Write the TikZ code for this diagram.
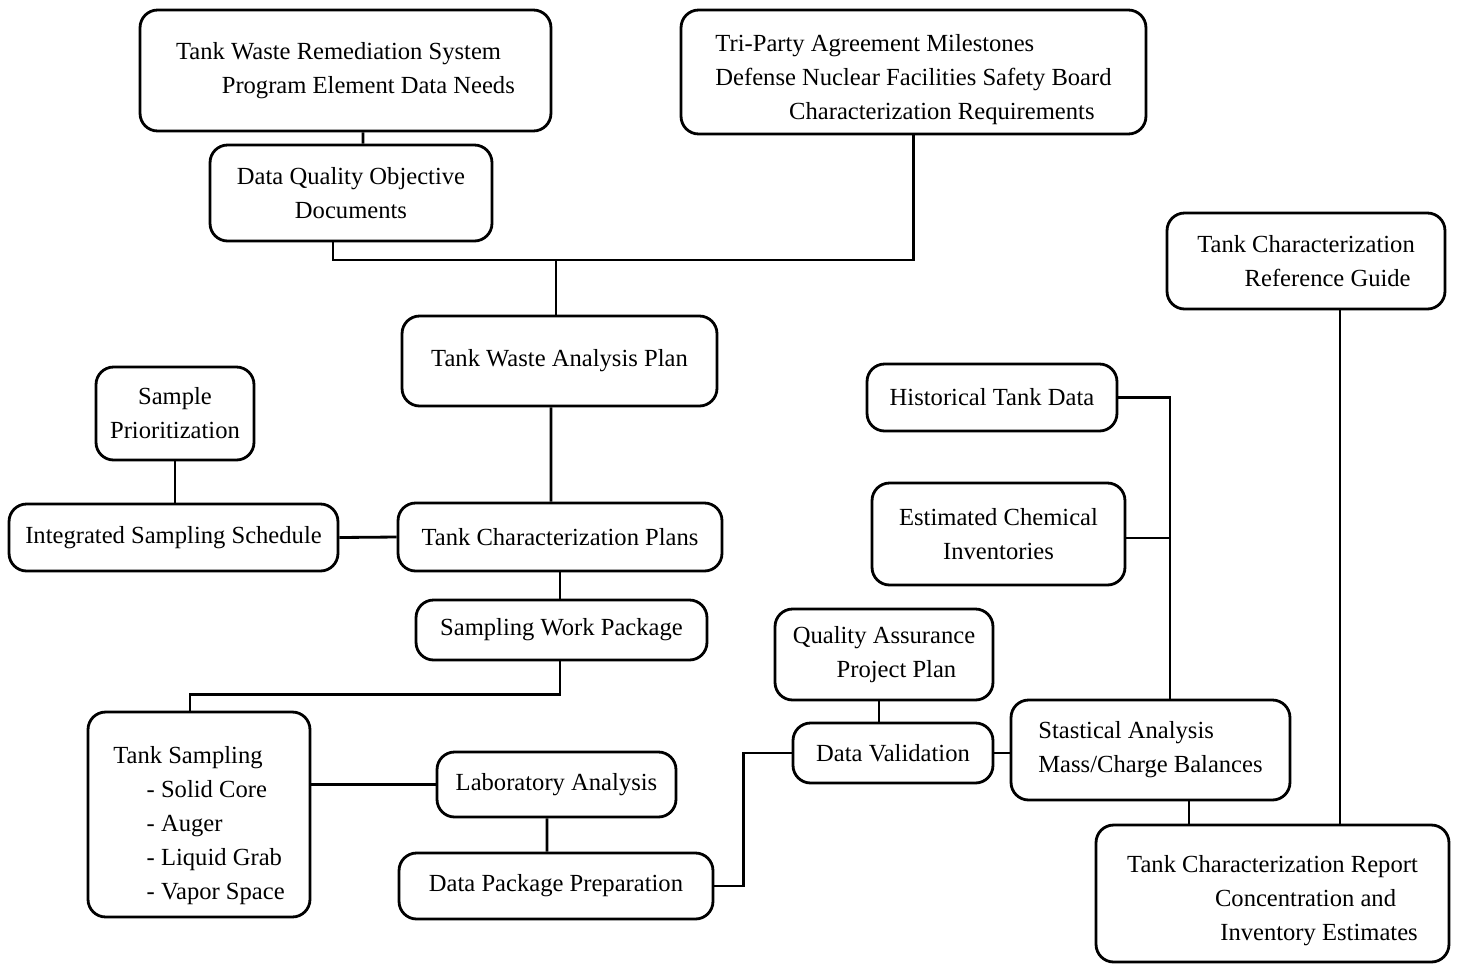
\documentclass[tikz,border=0pt]{standalone}
\usepackage{fontspec}
\setmainfont{Liberation Serif}
\usepackage{tikz}
\usetikzlibrary{positioning,calc}
\tikzset{
  box/.style={rectangle,rounded corners=10pt,draw=black,line width=1.6pt,
              align=center,font=\fontsize{14}{19.4}\selectfont,inner sep=2pt},
  lbox/.style={box,align=left},
  link/.style={line width=1.6pt,draw=black}
}

\begin{document}
\begin{tikzpicture}[x=0.02cm,y=-0.02cm]
  \useasboundingbox (0,0) rectangle (1458,965);

  % top row: requirements
  \node[lbox,minimum width=8.22cm,minimum height=2.42cm] (twrs) at (345.5,70.5)
      {Tank Waste Remediation System\\ \hspace*{26pt}Program Element Data Needs};
  \node[lbox,minimum width=9.3cm,minimum height=2.48cm] (tpa) at (913.5,72)
      {\rule{0pt}{18pt}Tri-Party Agreement Milestones\\Defense Nuclear Facilities Safety Board\\
       \hspace*{42pt}Characterization Requirements};
  \node[box,minimum width=5.64cm,minimum height=1.92cm] (dqo) at (351,193)
      {Data Quality Objective\\Documents};

  % planning column
  \node[box,minimum width=6.3cm,minimum height=1.8cm] (twap) at (559.5,361)
      {Tank Waste Analysis Plan};
  \node[box,minimum width=3.16cm,minimum height=1.86cm] (prio) at (175,413.5)
      {Sample\\Prioritization};
  \node[box,minimum width=6.58cm,minimum height=1.34cm] (iss) at (173.5,537.5)
      {Integrated Sampling Schedule};
  \node[box,minimum width=6.48cm,minimum height=1.36cm] (tcp) at (560,537)
      {Tank Characterization Plans};
  \node[box,minimum width=5.82cm,minimum height=1.2cm] (swp) at (561.5,630)
      {Sampling Work Package};

  % sampling and laboratory
  \node[lbox,minimum width=4.44cm,minimum height=4.1cm] (samp) at (199,814.5)
      {\rule{0pt}{22pt}Tank Sampling\\ \hspace*{19pt}- Solid Core\\ \hspace*{19pt}- Auger\\
       \hspace*{19pt}- Liquid Grab\\ \hspace*{19pt}- Vapor Space};
  \node[box,minimum width=4.78cm,minimum height=1.3cm] (lab) at (556.5,784.5)
      {Laboratory Analysis};
  \node[box,minimum width=6.28cm,minimum height=1.32cm] (dpp) at (556,886)
      {Data Package Preparation};

  % validation and evaluation
  \node[lbox,minimum width=4.36cm,minimum height=1.82cm] (qapp) at (884,654.5)
      {Quality Assurance\\ \hspace*{25pt}Project Plan};
  \node[box,minimum width=4cm,minimum height=1.2cm] (dv) at (893,753)
      {Data Validation};
  \node[lbox,minimum width=5.58cm,minimum height=2cm] (stat) at (1150.5,750)
      {Stastical Analysis\\Mass/Charge Balances};
  \node[box,minimum width=5cm,minimum height=1.34cm] (hist) at (992,397.5)
      {Historical Tank Data};
  \node[box,minimum width=5.06cm,minimum height=2.04cm] (est) at (998.5,534)
      {Estimated Chemical\\Inventories};
  \node[lbox,minimum width=5.56cm,minimum height=1.92cm] (tcrg) at (1306,261)
      {Tank Characterization\\ \hspace*{27pt}Reference Guide};
  \node[lbox,minimum width=7.06cm,minimum height=2.74cm] (tcr) at (1272.5,893.5)
      {\rule{0pt}{18pt}Tank Characterization Report\\ \hspace*{50pt}Concentration and\\
       \hspace*{53pt}Inventory Estimates};

  \coordinate (jn) at (556,260);

  \draw[link] ([xshift=0.35cm]twrs.south) -- ([xshift=0.24cm]dqo.north);
  \draw[link] ([xshift=-0.36cm]dqo.south) |- (jn) -| (tpa.south);
  \draw[link] (jn) -- (jn |- twap.north);
  \draw[link] ([xshift=-0.17cm]twap.south) -- ([xshift=-0.18cm]tcp.north);
  \draw[link] (prio.south) -- (prio.south |- iss.north);
  \draw[link] (iss.east) -- (tcp.west);
  \draw[link] (tcp.south) -- (tcp.south |- swp.north);
  \draw[link] ([xshift=-0.03cm]swp.south) -- ++(0,33) -| ([xshift=-0.18cm]samp.north);
  \draw[link] (samp.east |- lab.west) -- (lab.west);
  \draw[link] ([xshift=-0.19cm]lab.south) -- ([xshift=-0.18cm]dpp.north);
  \draw[link] (dpp.east) -- ++(29,0) |- (dv.west);
  \draw[link] ([xshift=-0.1cm]qapp.south) -- ([xshift=-0.1cm]qapp.south |- dv.north);
  \draw[link] (dv.east) -- (dv.east -| stat.west);
  \draw[link] (hist.east) -| ([xshift=0.39cm]stat.north);
  \draw[link] ([yshift=-0.08cm]est.east) -- ++(45,0);
  \draw[link] ([xshift=0.77cm]stat.south) -- ([xshift=0.77cm]stat.south |- tcr.north);
  \draw[link] ([xshift=0.68cm]tcrg.south) -- ([xshift=0.68cm]tcrg.south |- tcr.north);

\end{tikzpicture}
\end{document}
